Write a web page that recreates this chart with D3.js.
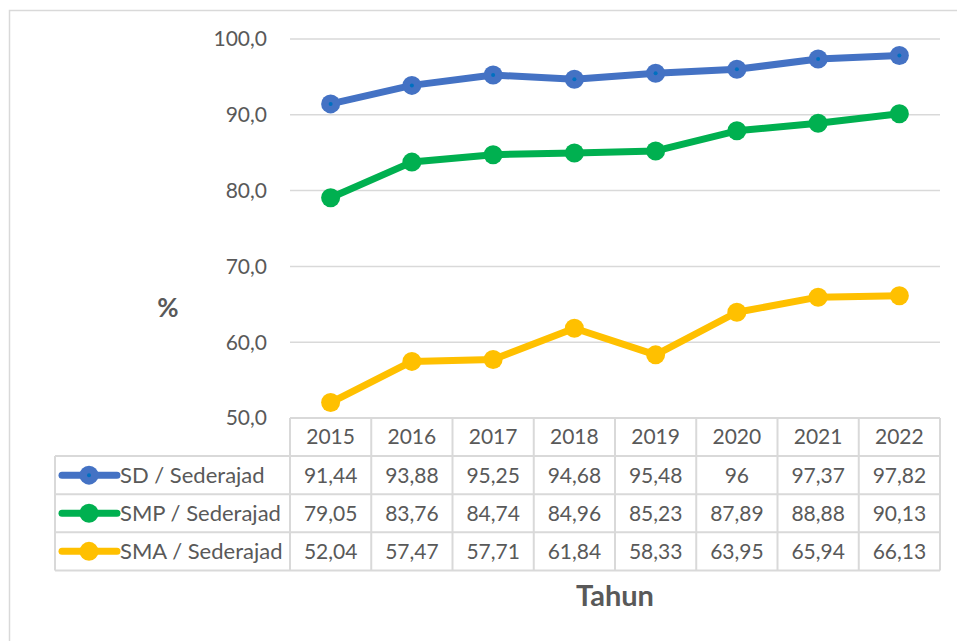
<!DOCTYPE html>
<html>
<head>
<meta charset="utf-8">
<script src="https://cdn.jsdelivr.net/npm/d3@7"></script>
<style>
	body { margin: 0; background: #fff; }
	svg { display: block; font-family: Lato, "Open Sans", sans-serif; }
</style>
</head>
<body>
<svg id="chart" width="957" height="641"></svg>
<script>
var years = ['2015', '2016', '2017', '2018', '2019', '2020', '2021', '2022'];
var seriesNames = ['SD / Sederajad', 'SMP / Sederajad', 'SMA / Sederajad'];
var sdValues = [91.44, 93.88, 95.25, 94.68, 95.48, 96, 97.37, 97.82];
var smpValues = [79.05, 83.76, 84.74, 84.96, 85.23, 87.89, 88.88, 90.13];
var smaValues = [52.04, 57.47, 57.71, 61.84, 58.33, 63.95, 65.94, 66.13];
var yTicks = [50, 60, 70, 80, 90, 100];
var colors = ['#4472C4', '#00B050', '#FFC000'];

var series = [sdValues, smpValues, smaValues].map(function (v, i) {
	return { name: seriesNames[i], values: v, color: colors[i], inner: i === 0 ? '#0070C0' : null };
});

var svg = d3.select('#chart');
var PL = 290, PR = 940, PT = 39, PB = 418;
var ROW = 38.1, LEGL = 55;
var textCol = '#595959', gridCol = '#d9d9d9';
var FS = 21;

// outer frame
svg.append('rect')
	.attr('x', 9.5).attr('y', 10.5)
	.attr('width', 960).attr('height', 640)
	.attr('fill', 'none').attr('stroke', gridCol).attr('stroke-width', 1.5);

var x = d3.scaleBand().domain(years).range([PL, PR]);
var y = d3.scaleLinear().domain([50, 100]).range([PB, PT]);

// gridlines
svg.append('g').selectAll('line')
	.data(yTicks.filter(function (d) { return d > 50; }))
	.join('line')
	.attr('x1', PL).attr('x2', PR)
	.attr('y1', function (d) { return y(d); })
	.attr('y2', function (d) { return y(d); })
	.attr('stroke', gridCol).attr('stroke-width', 1.5);

// y tick labels
var fmt = function (d) { return d3.format('.1f')(d).replace('.', ','); };
svg.append('g').selectAll('text')
	.data(yTicks)
	.join('text')
	.attr('x', 267)
	.attr('y', function (d) { return y(d); })
	.attr('dy', '0.35em')
	.attr('text-anchor', 'end')
	.attr('font-size', FS)
	.attr('fill', textCol)
	.text(fmt);

// axis titles
svg.append('text')
	.attr('x', 168).attr('y', 308).attr('dy', '0.35em')
	.attr('text-anchor', 'middle')
	.attr('font-size', 26).attr('font-weight', 'bold')
	.attr('fill', textCol)
	.text('%');

svg.append('text')
	.attr('x', 615).attr('y', 596).attr('dy', '0.35em')
	.attr('text-anchor', 'middle')
	.attr('font-size', 29).attr('font-weight', 'bold')
	.attr('fill', textCol)
	.text('Tahun');

// lines
var cx = function (d, i) { return x(years[i]) + x.bandwidth() / 2; };
var line = d3.line()
	.x(cx)
	.y(function (d) { return y(d); });

var g = svg.append('g').selectAll('g')
	.data(series)
	.join('g');

g.append('path')
	.attr('d', function (s) { return line(s.values); })
	.attr('fill', 'none')
	.attr('stroke', function (s) { return s.color; })
	.attr('stroke-width', 7)
	.attr('stroke-linejoin', 'round')
	.attr('stroke-linecap', 'round');

g.each(function (s) {
	var gs = d3.select(this);
	gs.selectAll('circle.m')
		.data(s.values)
		.join('circle')
		.attr('class', 'm')
		.attr('cx', cx)
		.attr('cy', function (d) { return y(d); })
		.attr('r', 9.5)
		.attr('fill', s.color);
	if (s.inner) {
		gs.selectAll('circle.in')
			.data(s.values)
			.join('circle')
			.attr('class', 'in')
			.attr('cx', cx)
			.attr('cy', function (d) { return y(d); })
			.attr('r', 2)
			.attr('fill', s.inner);
	}
});

// data table
var table = svg.append('g');
var tblBottom = PB + ROW * 4;

// horizontal lines
table.append('line').attr('x1', PL).attr('x2', PR).attr('y1', PB).attr('y2', PB);
[1, 2, 3, 4].forEach(function (r) {
	table.append('line')
		.attr('x1', LEGL).attr('x2', PR)
		.attr('y1', PB + ROW * r).attr('y2', PB + ROW * r);
});
// vertical lines
table.append('line').attr('x1', LEGL).attr('x2', LEGL).attr('y1', PB + ROW).attr('y2', tblBottom);
years.forEach(function (yr) {
	table.append('line')
		.attr('x1', x(yr)).attr('x2', x(yr))
		.attr('y1', PB).attr('y2', tblBottom);
});
table.append('line').attr('x1', PR).attr('x2', PR).attr('y1', PB).attr('y2', tblBottom);
table.selectAll('line').attr('stroke', gridCol).attr('stroke-width', 2);

// header years
table.selectAll('text.yr')
	.data(years)
	.join('text')
	.attr('class', 'yr')
	.attr('x', function (d) { return x(d) + x.bandwidth() / 2; })
	.attr('y', PB + ROW / 2)
	.attr('dy', '0.35em')
	.attr('text-anchor', 'middle')
	.attr('font-size', FS)
	.attr('fill', textCol)
	.text(function (d) { return d; });

var numFmt = function (v) { return String(v).replace('.', ','); };

series.forEach(function (s, r) {
	var ry = PB + ROW * (r + 1.5);
	table.append('line')
		.attr('x1', 62).attr('x2', 117)
		.attr('y1', ry).attr('y2', ry)
		.attr('stroke', s.color).attr('stroke-width', 7)
		.attr('stroke-linecap', 'round');
	table.append('circle')
		.attr('cx', 89).attr('cy', ry).attr('r', 9.5)
		.attr('fill', s.color);
	if (s.inner) {
		table.append('circle')
			.attr('cx', 89).attr('cy', ry).attr('r', 2)
			.attr('fill', s.inner);
	}
	table.append('text')
		.attr('x', 120).attr('y', ry).attr('dy', '0.35em')
		.attr('font-size', 22).attr('fill', textCol)
		.text(s.name);
	table.selectAll('text.v' + r)
		.data(s.values)
		.join('text')
		.attr('x', function (d, i) { return x(years[i]) + x.bandwidth() / 2; })
		.attr('y', ry)
		.attr('dy', '0.35em')
		.attr('text-anchor', 'middle')
		.attr('font-size', FS)
		.attr('fill', textCol)
		.text(numFmt);
});
</script>
</body>
</html>
